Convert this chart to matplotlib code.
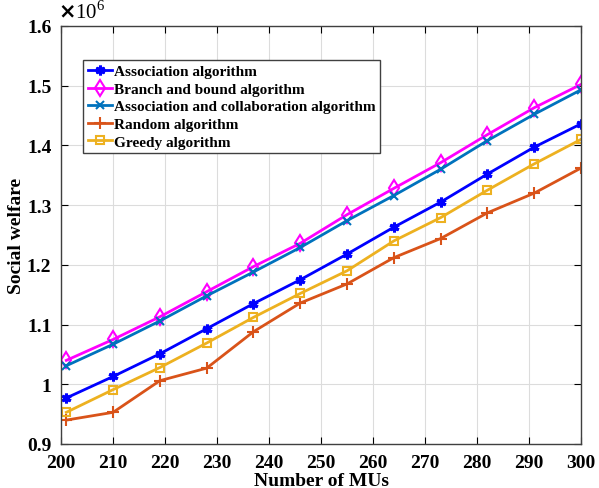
import matplotlib.pyplot as plt
import numpy as np

plt.rcParams['font.family'] = ['Liberation Serif', 'DejaVu Serif']
plt.rcParams['font.weight'] = 'bold'

# number of MUs
mus = [201, 210, 219, 228, 237, 246, 255, 264, 273, 282, 291, 300]

# social welfare (x 1e6)
association = [0.977, 1.013, 1.051, 1.093, 1.135, 1.175, 1.218, 1.263, 1.305, 1.352, 1.397, 1.436]
branch_bound = [1.040, 1.075, 1.113, 1.155, 1.197, 1.236, 1.284, 1.328, 1.371, 1.418, 1.463, 1.502]
assoc_collab = [1.031, 1.067, 1.106, 1.148, 1.188, 1.229, 1.274, 1.316, 1.360, 1.408, 1.452, 1.493]
random_alg = [0.940, 0.953, 1.006, 1.027, 1.088, 1.136, 1.168, 1.212, 1.244, 1.287, 1.320, 1.362]
greedy = [0.953, 0.991, 1.028, 1.069, 1.112, 1.152, 1.190, 1.240, 1.279, 1.325, 1.369, 1.410]

fig = plt.figure(figsize=(5.99, 4.89), dpi=100)
ax = fig.add_axes([0.102, 0.090, 0.868, 0.855])

ax.plot(mus, association, color=(0, 0, 1), lw=2, marker=(6, 2, 0), ms=7, mew=2.2,
        label="Association algorithm")
ax.plot(mus, branch_bound, color=(1, 0, 1), lw=2, marker='d', ms=8, mew=1.5,
        mfc='none', label="Branch and bound algorithm")
ax.plot(mus, assoc_collab, color=(0, 0.447, 0.741), lw=2, marker='x', ms=6, mew=1.5,
        label="Association and collaboration algorithm")
ax.plot(mus, random_alg, color=(0.85, 0.325, 0.098), lw=2, marker='+', ms=8, mew=1.5,
        label="Random algorithm")
ax.plot(mus, greedy, color=(0.929, 0.694, 0.125), lw=2, marker='s', ms=6, mew=1.5,
        mfc='none', label="Greedy algorithm")

ax.set_xlim(200, 300)
ax.set_ylim(0.9, 1.6)
ax.set_xticks(np.arange(200, 301, 10))
ax.set_yticks(np.arange(0.9, 1.61, 0.1))
ax.set_yticklabels(["0.9", "1", "1.1", "1.2", "1.3", "1.4", "1.5", "1.6"])
ax.grid(True, color='#dcdcdc', lw=0.8)
ax.tick_params(direction='in', top=True, right=True, labelsize=14, length=5, width=0.8)
ax.tick_params(axis='x', pad=7)
ax.tick_params(axis='y', pad=7)
for s in ax.spines.values():
    s.set_color('#404040')
    s.set_linewidth(1)

ax.set_xlabel("Number of MUs", fontsize=14, fontweight='bold', labelpad=1)
ax.set_ylabel("Social welfare", fontsize=14, fontweight='bold', labelpad=1)
ax.text(-0.005, 1.008, r"$\times\mathregular{10}^{\mathregular{6}}$", transform=ax.transAxes,
        fontsize=15, ha='left', va='bottom', fontweight='normal')

leg = ax.legend(loc='upper left', bbox_to_anchor=(0.042, 0.918), fontsize=11,
                frameon=True, fancybox=False, edgecolor='#404040', framealpha=1,
                handlelength=1.6, handletextpad=0.15, borderpad=0.3, labelspacing=0.25,
                borderaxespad=0)
leg.get_frame().set_linewidth(1)

fig.savefig("out.png", dpi=100)
